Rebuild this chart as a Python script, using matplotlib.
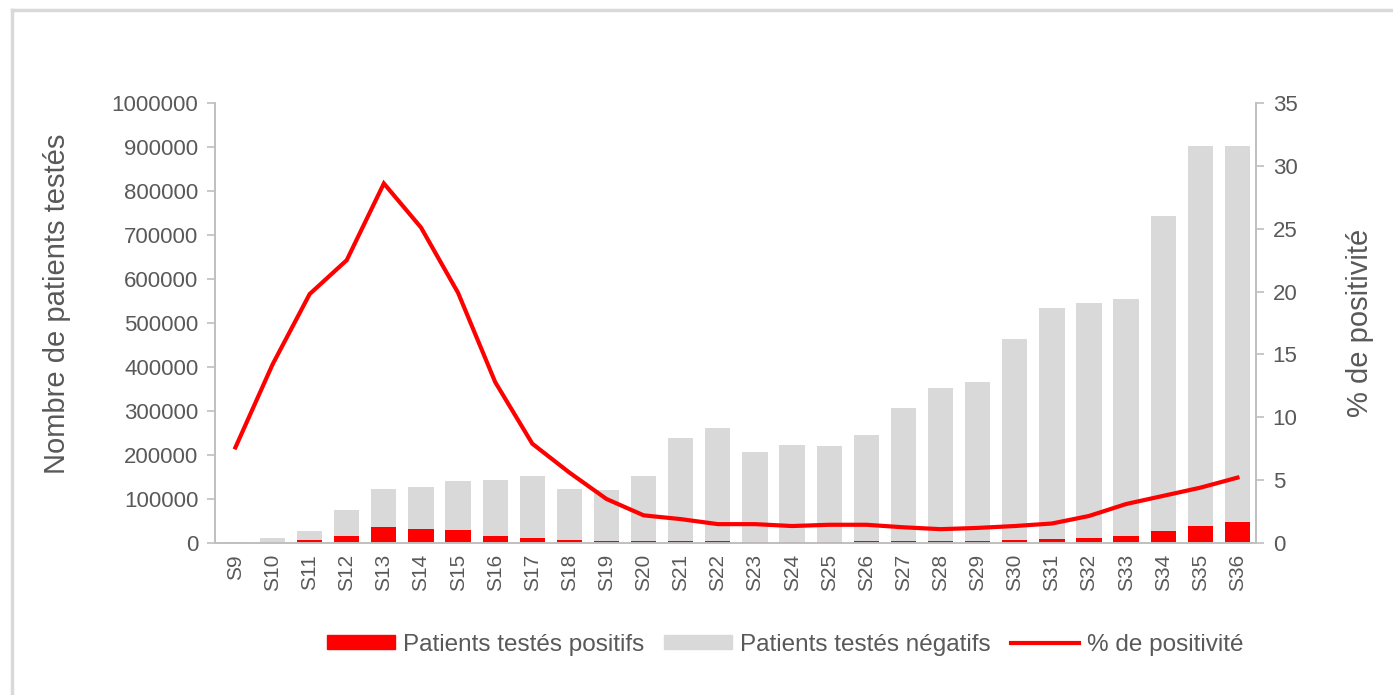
import matplotlib.pyplot as plt
from matplotlib.lines import Line2D
from matplotlib.patches import Patch
import numpy as np

weeks = [f"S{i}" for i in range(9, 37)]

# total patients tested per week
total = [3000, 12000, 28000, 74000, 123000, 128000, 142000, 144000, 152000,
         123000, 120000, 152000, 239000, 261000, 206000, 223000, 220000,
         245000, 307000, 352000, 366000, 464000, 534000, 545000, 555000,
         743000, 902000, 902000]
# positive patients per week
positive = [300, 800, 6000, 17000, 36000, 31000, 29000, 17000, 12000,
            6000, 4000, 3500, 3500, 3500, 3000, 3000, 3000,
            3500, 3500, 3500, 4000, 6000, 9000, 12000, 17000,
            28000, 38000, 47000]
# % de positivité
pct = [7.6, 14.2, 19.8, 22.5, 28.6, 25.1, 19.9, 12.8, 7.9, 5.6, 3.5, 2.2,
       1.9, 1.5, 1.5, 1.35, 1.45, 1.45, 1.25, 1.1, 1.2, 1.35, 1.55, 2.15,
       3.1, 3.75, 4.4, 5.2]

negative = [t - p for t, p in zip(total, positive)]

plt.rcParams['font.family'] = ['Liberation Sans', 'DejaVu Sans']
grey_txt = '#595959'
spine_c = '#bfbfbf'
red = '#ff0000'
bar_grey = '#d9d9d9'

fig = plt.figure(figsize=(13.93, 6.95), dpi=100)
ax = fig.add_axes([215 / 1393, 1 - 543 / 695, (1256 - 215) / 1393, (543 - 103) / 695])
ax2 = ax.twinx()

x = np.arange(len(weeks))
ax.bar(x, positive, width=0.68, color=red, zorder=2)
ax.bar(x, negative, width=0.68, bottom=positive, color=bar_grey, zorder=2)
ax2.plot(x, pct, color=red, lw=3, solid_joinstyle='miter', zorder=3)

ax.set_xlim(-0.55, 27.5)
ax.set_ylim(0, 1000000)
ax.set_yticks(np.arange(0, 1000001, 100000))
ax.set_yticklabels([str(v) for v in range(0, 1000001, 100000)])
ax2.set_ylim(0, 35)
ax2.set_yticks(np.arange(0, 36, 5))

ax.set_xticks(x)
ax.set_xticklabels(weeks, rotation=90)

for a in (ax, ax2):
    a.spines['top'].set_visible(False)
    for s in ('left', 'right', 'bottom'):
        a.spines[s].set_color(spine_c)
        a.spines[s].set_linewidth(1.2)
    a.tick_params(axis='y', colors=spine_c, labelcolor=grey_txt, labelsize=16,
                  length=6, width=1.2, pad=6)
ax.tick_params(axis='x', length=0, labelcolor=grey_txt, labelsize=15, pad=8)

ax.set_ylabel("Nombre de patients testés", color=grey_txt, fontsize=21)
ax.yaxis.set_label_coords(-0.138, 0.543)
ax2.set_ylabel("% de positivité", color=grey_txt, fontsize=21, rotation=90)
ax2.yaxis.set_label_coords(1.0865, 0.50)

handles = [Patch(color=red), Patch(color=bar_grey), Line2D([0], [0], color=red, lw=3)]
labels = ["Patients testés positifs", "Patients testés négatifs", "% de positivité"]
fig.legend(handles, labels, loc='center', bbox_to_anchor=(0.5636, 0.072), ncol=3,
           frameon=False, fontsize=17.5, labelcolor=grey_txt, handlelength=2.8,
           handleheight=0.5, handletextpad=0.35, columnspacing=0.8)

# outer frame (top and left edges only)
fig.add_artist(Line2D([12 / 1393, 12 / 1393], [0, 1 - 10 / 695], color='#d9d9d9', lw=2.5))
fig.add_artist(Line2D([12 / 1393, 1], [1 - 10 / 695, 1 - 10 / 695], color='#d9d9d9', lw=2.5))

fig.savefig("out.png", dpi=100)
